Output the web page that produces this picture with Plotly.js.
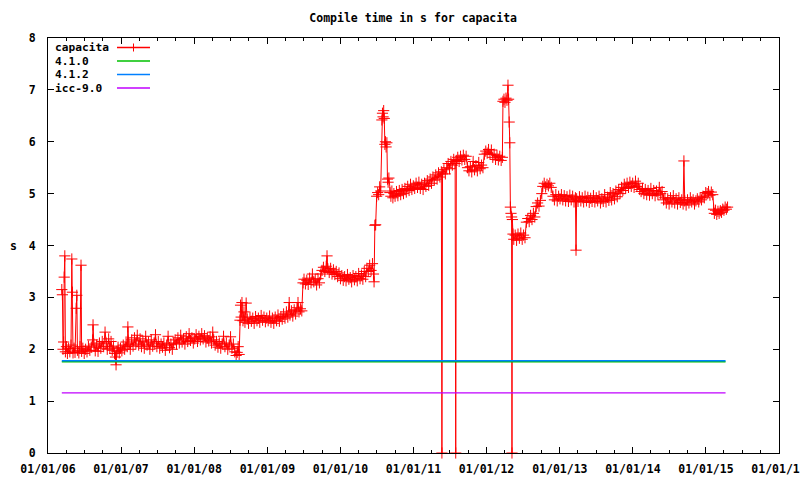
<!DOCTYPE html>
<html>
<head>
<meta charset="utf-8">
<script src="https://cdn.plot.ly/plotly-3.0.1.min.js"></script>
<style>html,body{margin:0;padding:0;background:#fff;overflow:hidden;}#chart{width:800px;height:480px;}</style>
</head>
<body>
<div id="chart"></div>
<script>
// ---- capacita compile time (s) ----
const d2006 = ["2006-03-11","2006-03-14","2006-03-17","2006-03-20","2006-03-23","2006-03-26","2006-03-29","2006-04-03","2006-04-08","2006-04-14","2006-04-20","2006-04-26","2006-04-30","2006-05-03","2006-05-06","2006-05-11","2006-05-16","2006-05-22","2006-05-25","2006-05-28","2006-06-04","2006-06-10","2006-06-15","2006-06-18","2006-06-24","2006-07-01","2006-07-08","2006-07-15","2006-07-22","2006-07-29","2006-08-05","2006-08-12","2006-08-14","2006-08-18","2006-08-25","2006-09-01","2006-09-08","2006-09-15","2006-09-22","2006-09-29","2006-10-06","2006-10-13","2006-10-18","2006-10-24","2006-10-31","2006-11-06","2006-11-12","2006-11-18","2006-11-24","2006-11-30","2006-12-04","2006-12-07","2006-12-11","2006-12-17","2006-12-23","2006-12-29"];
const v2006 = [3.15,3.05,2.00,2.14,3.39,3.80,1.95,2.05,1.92,2.02,1.95,2.08,3.74,3.10,1.93,2.02,1.94,2.79,3.04,1.98,1.93,2.05,3.62,1.96,2.02,1.92,2.00,1.95,2.06,1.98,2.04,2.18,2.47,2.10,1.97,2.08,1.96,2.12,2.02,2.15,2.05,2.33,2.12,2.00,2.20,2.02,2.15,1.98,2.06,1.92,1.85,1.70,1.96,2.04,1.93,2.02];

const d2007 = ["2007-01-05","2007-01-12","2007-01-19","2007-01-26","2007-02-01","2007-02-04","2007-02-09","2007-02-16","2007-02-23","2007-03-02","2007-03-09","2007-03-16","2007-03-23","2007-03-30","2007-04-06","2007-04-13","2007-04-20","2007-04-27","2007-05-04","2007-05-11","2007-05-18","2007-05-25","2007-06-01","2007-06-08","2007-06-15","2007-06-22","2007-06-29","2007-07-06","2007-07-13","2007-07-20","2007-07-27","2007-08-03","2007-08-10","2007-08-17","2007-08-24","2007-08-31","2007-09-07","2007-09-14","2007-09-21","2007-09-28","2007-10-05","2007-10-12","2007-10-19","2007-10-26","2007-11-02","2007-11-09","2007-11-16","2007-11-23","2007-11-30","2007-12-07","2007-12-14","2007-12-21","2007-12-28"];
const v2007 = [1.97,2.08,2.00,2.14,2.05,2.43,2.10,2.00,2.18,2.06,2.22,2.10,2.27,2.08,2.20,2.05,2.16,2.02,2.25,2.08,2.14,2.00,2.18,2.06,2.12,2.28,2.05,2.15,2.02,2.10,2.04,2.12,1.98,2.08,2.25,2.03,2.10,2.00,2.12,2.18,2.10,2.22,2.12,2.27,2.14,2.20,2.10,2.24,2.15,2.30,2.17,2.22,2.12];

const d2008 = ["2008-01-04","2008-01-11","2008-01-18","2008-01-25","2008-02-01","2008-02-08","2008-02-15","2008-02-22","2008-02-29","2008-03-07","2008-03-14","2008-03-21","2008-03-28","2008-04-03","2008-04-08","2008-04-15","2008-04-22","2008-04-29","2008-05-06","2008-05-13","2008-05-20","2008-05-27","2008-06-03","2008-06-10","2008-06-17","2008-06-24","2008-07-01","2008-07-08","2008-07-15","2008-07-22","2008-07-29","2008-08-03","2008-08-08","2008-08-13","2008-08-17","2008-08-20","2008-08-23","2008-08-27","2008-09-01","2008-09-06","2008-09-11","2008-09-17","2008-09-22","2008-09-29","2008-10-06","2008-10-13","2008-10-20","2008-10-27","2008-11-03","2008-11-10","2008-11-17","2008-11-24","2008-12-01","2008-12-08","2008-12-15","2008-12-22","2008-12-29"];
const v2008 = [2.20,2.28,2.15,2.25,2.18,2.30,2.20,2.26,2.14,2.22,2.16,2.24,2.12,2.33,2.18,2.08,2.15,2.04,2.12,2.02,2.10,2.25,2.05,2.12,2.00,2.08,2.24,2.02,2.10,1.95,1.88,1.94,2.05,1.90,2.56,2.85,2.62,2.90,2.55,2.72,2.52,2.89,2.58,2.50,2.62,2.54,2.60,2.50,2.63,2.55,2.60,2.52,2.65,2.56,2.62,2.53,2.60];

const d2009 = ["2009-01-05","2009-01-12","2009-01-19","2009-01-26","2009-02-02","2009-02-09","2009-02-16","2009-02-23","2009-03-02","2009-03-09","2009-03-16","2009-03-23","2009-03-30","2009-04-06","2009-04-13","2009-04-20","2009-04-24","2009-05-01","2009-05-08","2009-05-15","2009-05-22","2009-05-29","2009-06-03","2009-06-08","2009-06-15","2009-06-22","2009-06-28","2009-07-03","2009-07-10","2009-07-17","2009-07-24","2009-07-31","2009-08-07","2009-08-14","2009-08-21","2009-08-28","2009-09-04","2009-09-11","2009-09-18","2009-09-25","2009-10-01","2009-10-08","2009-10-15","2009-10-22","2009-10-26","2009-10-30","2009-11-06","2009-11-13","2009-11-20","2009-11-27","2009-12-04","2009-12-11","2009-12-18","2009-12-25"];
const v2009 = [2.55,2.64,2.52,2.60,2.50,2.62,2.55,2.66,2.54,2.63,2.58,2.68,2.60,2.72,2.62,2.90,2.66,2.74,2.64,2.76,2.68,2.80,2.90,2.72,2.78,2.74,3.28,3.35,3.26,3.33,3.25,3.37,3.28,3.45,3.30,3.34,3.24,3.36,3.28,3.45,3.52,3.58,3.50,3.60,3.80,3.55,3.48,3.56,3.45,3.53,3.44,3.50,3.40,3.47];

const d2010 = ["2010-01-01","2010-01-08","2010-01-15","2010-01-22","2010-01-29","2010-02-05","2010-02-12","2010-02-19","2010-02-26","2010-03-05","2010-03-12","2010-03-19","2010-03-26","2010-04-02","2010-04-09","2010-04-16","2010-04-23","2010-04-30","2010-05-07","2010-05-13","2010-05-20","2010-05-27","2010-06-03","2010-06-10","2010-06-15","2010-06-18","2010-06-22","2010-06-26","2010-07-01","2010-07-06","2010-07-11","2010-07-16","2010-07-21","2010-07-27","2010-07-30","2010-08-02","2010-08-05","2010-08-08","2010-08-11","2010-08-14","2010-08-17","2010-08-21","2010-08-24","2010-08-27","2010-08-31","2010-09-05","2010-09-10","2010-09-15","2010-09-20","2010-09-25","2010-10-01","2010-10-08","2010-10-15","2010-10-22","2010-10-29","2010-11-05","2010-11-12","2010-11-19","2010-11-26","2010-12-03","2010-12-10","2010-12-17","2010-12-24","2010-12-31"];
const v2010 = [3.36,3.42,3.33,3.40,3.32,3.44,3.35,3.38,3.30,3.42,3.34,3.40,3.32,3.46,3.36,3.43,3.35,3.50,3.40,3.56,3.50,3.62,3.52,3.65,3.45,3.30,4.39,4.40,4.95,5.02,4.98,5.13,5.05,6.42,6.55,6.48,6.60,6.45,5.95,6.00,5.90,5.98,5.28,5.22,5.30,5.02,4.95,5.05,4.92,5.00,4.95,5.04,4.96,5.06,4.98,5.08,5.00,5.10,5.03,5.14,5.06,5.18,5.08,5.15];

const d2011 = ["2011-01-07","2011-01-14","2011-01-21","2011-01-28","2011-02-04","2011-02-11","2011-02-18","2011-02-25","2011-03-04","2011-03-11","2011-03-18","2011-03-25","2011-04-01","2011-04-08","2011-04-15","2011-04-22","2011-04-29","2011-05-06","2011-05-13","2011-05-20","2011-05-23","2011-05-26","2011-06-02","2011-06-09","2011-06-16","2011-06-23","2011-06-30","2011-07-07","2011-07-14","2011-07-21","2011-07-28","2011-07-31","2011-08-03","2011-08-10","2011-08-17","2011-08-24","2011-08-31","2011-09-07","2011-09-14","2011-09-21","2011-09-28","2011-10-05","2011-10-12","2011-10-19","2011-10-26","2011-11-02","2011-11-09","2011-11-16","2011-11-23","2011-11-30","2011-12-07","2011-12-14","2011-12-21","2011-12-28"];
const v2011 = [5.10,5.20,5.12,5.22,5.10,5.18,5.08,5.20,5.14,5.25,5.16,5.28,5.20,5.32,5.26,5.36,5.28,5.40,5.32,5.42,0,5.38,5.46,5.38,5.50,5.58,5.48,5.62,5.55,5.66,5.58,0,5.64,5.70,5.62,5.72,5.65,5.74,5.66,5.72,5.50,5.44,5.52,5.42,5.62,5.46,5.54,5.44,5.60,5.48,5.55,5.50,5.76,5.82];

const d2012 = ["2012-01-04","2012-01-11","2012-01-18","2012-01-25","2012-02-01","2012-02-08","2012-02-15","2012-02-22","2012-02-29","2012-03-07","2012-03-14","2012-03-20","2012-03-23","2012-03-28","2012-04-02","2012-04-07","2012-04-12","2012-04-17","2012-04-20","2012-04-23","2012-04-26","2012-04-29","2012-05-02","2012-05-05","2012-05-07","2012-05-09","2012-05-12","2012-05-16","2012-05-23","2012-05-30","2012-06-06","2012-06-13","2012-06-20","2012-06-27","2012-07-04","2012-07-11","2012-07-18","2012-07-25","2012-08-01","2012-08-08","2012-08-15","2012-08-22","2012-08-29","2012-09-05","2012-09-12","2012-09-19","2012-09-26","2012-10-03","2012-10-08","2012-10-15","2012-10-22","2012-10-29","2012-11-05","2012-11-12","2012-11-19","2012-11-28","2012-12-05","2012-12-12","2012-12-19","2012-12-26"];
const v2012 = [5.78,5.85,5.76,5.84,5.70,5.76,5.66,5.74,5.65,5.72,5.64,5.70,6.78,6.82,6.76,6.84,6.80,7.09,6.82,6.38,5.98,4.74,4.62,4.55,0,4.50,4.22,4.12,4.20,4.10,4.22,4.14,4.24,4.12,4.20,4.15,4.45,4.52,4.46,4.58,4.50,4.62,4.55,4.75,4.82,4.76,4.87,5.00,5.14,5.20,5.13,5.18,5.15,5.20,5.12,4.95,4.88,4.98,4.86,4.95];

const d2013 = ["2013-01-02","2013-01-09","2013-01-16","2013-01-23","2013-01-30","2013-02-06","2013-02-13","2013-02-20","2013-02-27","2013-03-06","2013-03-13","2013-03-20","2013-03-23","2013-03-26","2013-04-02","2013-04-09","2013-04-16","2013-04-23","2013-04-30","2013-05-07","2013-05-14","2013-05-21","2013-05-28","2013-06-04","2013-06-11","2013-06-18","2013-06-25","2013-07-02","2013-07-09","2013-07-16","2013-07-23","2013-07-30","2013-08-06","2013-08-13","2013-08-20","2013-08-27","2013-09-03","2013-09-10","2013-09-17","2013-09-24","2013-10-01","2013-10-08","2013-10-15","2013-10-22","2013-10-29","2013-11-05","2013-11-12","2013-11-19","2013-11-26","2013-12-03","2013-12-10","2013-12-17","2013-12-24","2013-12-31"];
const v2013 = [4.90,4.98,4.88,4.96,4.86,4.94,4.85,4.97,4.88,4.95,4.84,4.92,3.91,4.90,4.85,4.94,4.86,4.92,4.84,4.95,4.86,4.93,4.83,4.91,4.85,4.96,4.84,4.92,4.86,4.95,4.82,4.90,4.85,4.98,4.84,4.93,4.87,5.02,4.88,5.00,4.90,5.05,4.94,5.08,5.00,5.12,5.06,5.18,5.10,5.20,5.12,5.22,5.14,5.20];

const d2014 = ["2014-01-07","2014-01-14","2014-01-21","2014-01-28","2014-02-04","2014-02-11","2014-02-18","2014-02-25","2014-03-04","2014-03-11","2014-03-18","2014-03-25","2014-04-01","2014-04-08","2014-04-15","2014-04-22","2014-04-29","2014-05-06","2014-05-13","2014-05-20","2014-05-27","2014-06-03","2014-06-10","2014-06-17","2014-06-24","2014-07-01","2014-07-08","2014-07-15","2014-07-22","2014-07-29","2014-08-05","2014-08-12","2014-08-19","2014-08-26","2014-09-02","2014-09-09","2014-09-13","2014-09-17","2014-09-24","2014-10-01","2014-10-08","2014-10-15","2014-10-22","2014-10-29","2014-11-05","2014-11-12","2014-11-19","2014-11-26","2014-12-03","2014-12-10","2014-12-17","2014-12-24","2014-12-31"];
const v2014 = [5.12,5.24,5.14,5.20,5.08,5.04,5.10,5.00,5.08,4.98,5.06,4.97,5.10,5.00,5.06,4.96,5.05,4.98,5.12,5.00,5.04,4.88,4.92,4.82,4.90,4.80,4.92,4.84,4.96,4.82,4.90,4.80,4.92,4.83,4.88,4.80,5.63,4.86,4.78,4.88,4.82,4.92,4.84,4.88,4.80,4.86,4.90,4.84,4.92,4.88,4.95,4.92,5.02];

const d2015 = ["2015-01-07","2015-01-14","2015-01-21","2015-01-28","2015-02-04","2015-02-08","2015-02-12","2015-02-18","2015-02-24","2015-03-02","2015-03-08","2015-03-14","2015-03-20","2015-03-26","2015-04-01","2015-04-07","2015-04-13","2015-04-19"];
const v2015 = [5.00,5.04,4.97,5.03,4.98,4.70,4.62,4.68,4.60,4.66,4.62,4.67,4.64,4.70,4.68,4.74,4.70,4.74];

// ---- reference compilers (flat lines) ----
const refDates = ["2006-03-11","2015-04-09"];
const gcc410 = [1.76,1.76];
const gcc412 = [1.78,1.78];
const icc90 = [1.16,1.16];

const seriesNames = ["capacita","4.1.0","4.1.2","icc-9.0"];
const seriesColors = ["#ff0000","#00c000","#0080ff","#c000ff"];

const capDates = [].concat(d2006,d2007,d2008,d2009,d2010,d2011,d2012,d2013,d2014,d2015);
const capVals = [].concat(v2006,v2007,v2008,v2009,v2010,v2011,v2012,v2013,v2014,v2015);

const FONT = 'DejaVu Sans Mono, monospace';

const traces = [
  {x: capDates, y: capVals, name: seriesNames[0], type:'scatter', mode:'lines+markers',
   line:{color:seriesColors[0], width:1},
   marker:{symbol:'cross-thin', size:8, color:seriesColors[0], line:{color:seriesColors[0], width:1}},
   cliponaxis:false},
  {x: refDates, y: gcc410, name: seriesNames[1], type:'scatter', mode:'lines', line:{color:seriesColors[1], width:1.5}},
  {x: refDates, y: gcc412, name: seriesNames[2], type:'scatter', mode:'lines', line:{color:seriesColors[2], width:1.5}},
  {x: refDates, y: icc90, name: seriesNames[3], type:'scatter', mode:'lines', line:{color:seriesColors[3], width:1.2}}
];

// legend drawn gnuplot-style: text then sample line
const L = 48, R = 779, T = 38, B = 453;
const px = v => (v - L) / (R - L);
const py = v => (B - v) / (B - T);
const legY = [47.5, 61.0, 74.5, 88.0];
const shapes = [];
const annotations = [];
seriesNames.forEach((n, i) => {
  shapes.push({type:'line', xref:'paper', yref:'paper', x0:px(117), x1:px(150), y0:py(legY[i]), y1:py(legY[i]),
               line:{color:seriesColors[i], width:1.5}});
  annotations.push({xref:'paper', yref:'paper', x:px(54), y:py(legY[i]), xanchor:'left', yanchor:'middle',
               text:n, showarrow:false, borderpad:0, valign:'middle',
               font:{family:FONT, size:11.2, color:'#000', weight:'bold'}});
});
shapes.push({type:'line', xref:'paper', yref:'paper', x0:px(133.5), x1:px(133.5), y0:py(legY[0]-4), y1:py(legY[0]+4),
             line:{color:seriesColors[0], width:1}});
annotations.push({xref:'paper', yref:'paper', x:0, xshift:-35, y:0.5, xanchor:'center', yanchor:'middle',
             text:'s', showarrow:false, font:{family:FONT, size:11.5, color:'#000', weight:'bold'}});

const layout = {
  width:800, height:480,
  margin:{l:L, r:800-R, t:T, b:480-B, pad:0},
  paper_bgcolor:'#fff', plot_bgcolor:'#fff',
  font:{family:FONT, size:11.5, color:'#000', weight:'bold'},
  showlegend:false,
  title:{text:'Compile time in s for capacita', x:0.5165, xanchor:'center', y:1-18/480, yanchor:'middle', yref:'container',
         font:{family:FONT, size:11.5, color:'#000', weight:'bold'}},
  xaxis:{type:'date', range:['2006-01-01','2016-01-01'], tick0:'2006-01-01', dtick:'M12', tickformat:'%m/%d/%y',
         showgrid:false, zeroline:false, showline:true, linecolor:'#000', linewidth:1, mirror:'ticks',
         ticks:'inside', ticklen:6, tickcolor:'#000', tickwidth:1, ticklabelstandoff:5, ticklabeloverflow:'allow',
         minor:{dtick:'M3', tick0:'2006-01-01', ticks:'inside', ticklen:3, tickcolor:'#000', tickwidth:1, showgrid:false}},
  yaxis:{range:[0,8], dtick:1, tick0:0, showgrid:false, zeroline:false, showline:true, linecolor:'#000', linewidth:1,
         mirror:'ticks', ticks:'inside', ticklen:6, tickcolor:'#000', tickwidth:1, ticklabelstandoff:9},
  shapes: shapes,
  annotations: annotations,
  hovermode:false
};

Plotly.newPlot('chart', traces, layout, {staticPlot:true, displayModeBar:false});
</script>
</body>
</html>
